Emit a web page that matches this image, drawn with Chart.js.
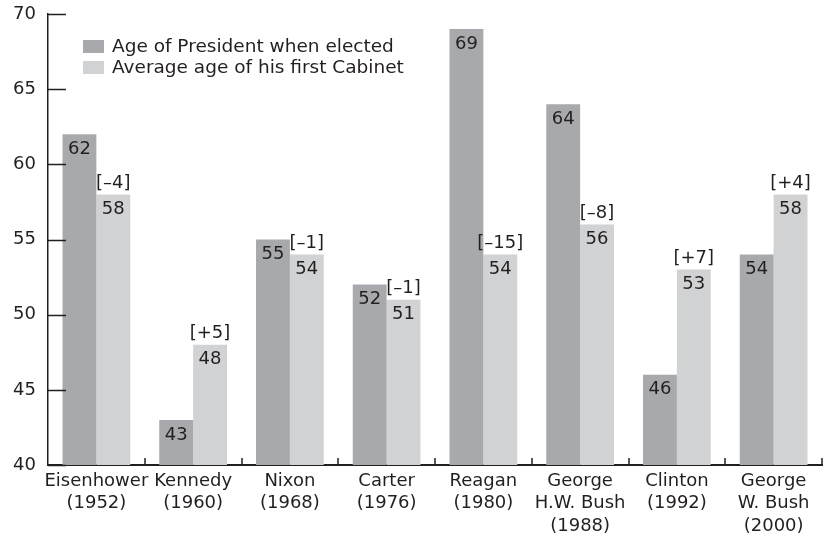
<!DOCTYPE html>
<html>
<head>
<meta charset="utf-8">
<script src="https://cdn.jsdelivr.net/npm/chart.js@4.4.0/dist/chart.umd.min.js"></script>
<style>
  html, body { margin: 0; padding: 0; background: #fff; }
  #wrap { width: 826px; height: 535px; }
</style>
</head>
<body>
<div id="wrap"><canvas id="ages"></canvas></div>
<script>
const presidents = [
    ['Eisenhower', '(1952)'],
    ['Kennedy', '(1960)'],
    ['Nixon', '(1968)'],
    ['Carter', '(1976)'],
    ['Reagan', '(1980)'],
    ['George', 'H.W. Bush', '(1988)'],
    ['Clinton', '(1992)'],
    ['George', 'W. Bush', '(2000)']
];
const presidentAge = [62, 43, 55, 52, 69, 64, 46, 54];
const cabinetAge = [58, 48, 54, 51, 54, 56, 53, 58];
const gapLabels = ['[\u20134]', '[+5]', '[\u20131]', '[\u20131]', '[\u201315]', '[\u20138]', '[+7]', '[+4]'];
const yTicks = [40, 45, 50, 55, 60, 65, 70];

const FONT = '"DejaVu Sans", sans-serif';
const INK = '#231f20';

// draws inward ticks, bar labels and the legend box inside the plot
const decorations = {
    id: 'decorations',
    afterDatasetsDraw(chart) {
        const ctx = chart.ctx;
        const x = chart.scales.x, y = chart.scales.y;
        const area = chart.chartArea;
        ctx.save();
        ctx.strokeStyle = INK;
        ctx.lineWidth = 1.5;
        yTicks.forEach(v => {
            const py = Math.round(y.getPixelForValue(v)) + 0.5;
            ctx.beginPath();
            ctx.moveTo(area.left, py);
            ctx.lineTo(area.left + 18, py);
            ctx.stroke();
        });
        const step = x.getPixelForValue(1) - x.getPixelForValue(0);
        for (let i = 0; i < presidents.length; i++) {
            const px = Math.round(x.getPixelForValue(i) + step / 2);
            ctx.beginPath();
            ctx.moveTo(px, area.bottom);
            ctx.lineTo(px, area.bottom - 7);
            ctx.stroke();
        }

        ctx.fillStyle = INK;
        ctx.font = '18px ' + FONT;
        ctx.textAlign = 'center';
        ctx.textBaseline = 'middle';
        chart.data.datasets.forEach((ds, di) => {
            chart.getDatasetMeta(di).data.forEach((bar, i) => {
                ctx.fillText(String(ds.data[i]), bar.x, bar.y + 15);
                if (di === 1) ctx.fillText(gapLabels[i], bar.x, bar.y - 11);
            });
        });

        // legend
        ctx.textAlign = 'left';
        ctx.font = '18.5px ' + FONT;
        chart.data.datasets.forEach((ds, di) => {
            const top = 40 + di * 21;
            ctx.fillStyle = ds.backgroundColor;
            ctx.fillRect(83, top, 21, 13);
            ctx.fillStyle = INK;
            ctx.fillText(ds.label, 112, top + 7);
        });
        ctx.restore();
    }
};

new Chart(document.getElementById('ages'), {
    type: 'bar',
    data: {
        labels: presidents,
        datasets: [{
            label: 'Age of President when elected',
            data: presidentAge,
            backgroundColor: '#a8a9ad'
        }, {
            label: 'Average age of his first Cabinet',
            data: cabinetAge,
            backgroundColor: '#d1d2d4'
        }]
    },
    options: {
        responsive: true,
        maintainAspectRatio: false,
        animation: false,
        devicePixelRatio: 1,
        layout: { padding: { top: 14, right: 4, left: 0, bottom: 0 } },
        datasets: { bar: { categoryPercentage: 0.7, barPercentage: 1.0 } },
        plugins: {
            legend: { display: false },
            tooltip: { enabled: false }
        },
        scales: {
            x: {
                grid: { display: false, drawTicks: false },
                border: { display: true, color: INK, width: 2 },
                ticks: {
                    color: INK,
                    font: { family: FONT, size: 18, lineHeight: 1.25 },
                    padding: 5,
                    maxRotation: 0,
                    autoSkip: false
                },
                afterFit(scale) {
                    scale.height = 70;
                    scale.paddingLeft = 0;
                    scale.paddingRight = 0;
                }
            },
            y: {
                min: 40,
                max: 70,
                grid: { display: false, drawTicks: false },
                border: { display: true, color: INK, width: 1.5 },
                ticks: {
                    stepSize: 5,
                    color: INK,
                    font: { family: FONT, size: 18 },
                    padding: 12
                },
                afterFit(scale) {
                    scale.width = 48;
                    scale.paddingTop = 0;
                    scale.paddingBottom = 0;
                }
            }
        }
    },
    plugins: [decorations]
});
</script>
</body>
</html>
